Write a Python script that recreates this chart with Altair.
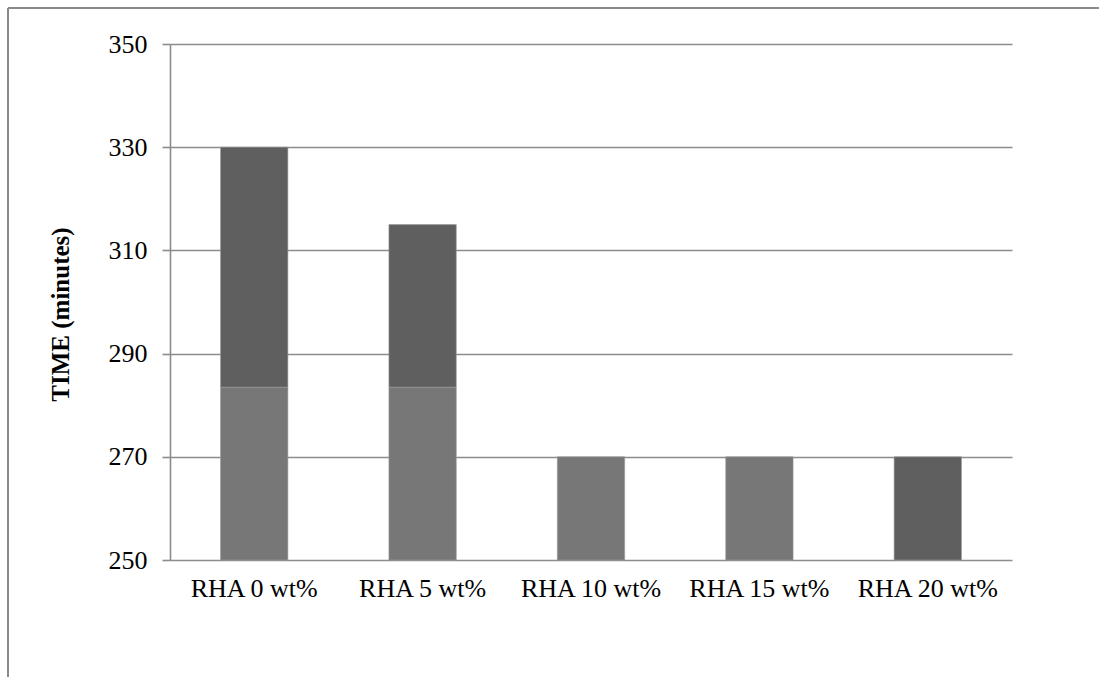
import altair as alt
import pandas as pd

categories = ["RHA 0 wt%", "RHA 5 wt%", "RHA 10 wt%", "RHA 15 wt%", "RHA 20 wt%"]
# lower (lighter) segment: bottom/top
light_low = [250, 250, 250, 250]
light_high = [283.5, 283.5, 270, 270]
light_cats = categories[:4]
# upper (darker) segment: bottom/top
dark_cats = ["RHA 0 wt%", "RHA 5 wt%", "RHA 20 wt%"]
dark_low = [283.5, 283.5, 250]
dark_high = [330, 315, 270]
y_ticks = [250, 270, 290, 310, 330, 350]

rows = []
for c, lo, hi in zip(light_cats, light_low, light_high):
    rows.append({"cat": c, "low": lo, "high": hi, "shade": "light"})
for c, lo, hi in zip(dark_cats, dark_low, dark_high):
    rows.append({"cat": c, "low": lo, "high": hi, "shade": "dark"})
df = pd.DataFrame(rows)

FONT = "Liberation Serif"
GRID = "#8c8c8c"

bars = alt.Chart(df).mark_bar(stroke="#9a9a9a", strokeWidth=0.6).encode(
    x=alt.X("cat:N", sort=categories,
            scale=alt.Scale(paddingInner=0.6, paddingOuter=0.3),
            axis=alt.Axis(title=None, labelAngle=0, domain=False, ticks=False,
                          labelFont=FONT, labelFontSize=26, labelColor="black",
                          labelPadding=15)),
    y=alt.Y("low:Q", scale=alt.Scale(domain=[250, 350], nice=False, zero=False),
            axis=alt.Axis(title="TIME (minutes)", values=y_ticks, grid=True,
                          gridColor=GRID, gridWidth=1.6, gridOpacity=1,
                          domainColor=GRID, domainWidth=1.6,
                          tickColor=GRID, tickWidth=1.6, tickSize=8,
                          labelFont=FONT, labelFontSize=26, labelColor="black",
                          labelPadding=15,
                          titleFont=FONT, titleFontSize=25, titleFontWeight="bold",
                          titleColor="black", titlePadding=35, titleY=270)),
    y2="high:Q",
    color=alt.Color("shade:N", scale=alt.Scale(domain=["light", "dark"],
                                               range=["#777777", "#5f5f5f"]),
                    legend=None),
)

frame_top = alt.Chart(df).mark_rule(color="#8a8a8a", strokeWidth=1.6).encode(
    x=alt.value(-162), x2=alt.value(929), y=alt.value(-36)
)
frame_left = alt.Chart(df).mark_rule(color="#8a8a8a", strokeWidth=1.6).encode(
    x=alt.value(-162), y=alt.value(-36), y2=alt.value(633)
)

chart = alt.layer(bars, frame_top, frame_left).properties(
    width=842, height=516,
    autosize=alt.AutoSizeParams(type="none"),
    padding={"left": 170, "top": 44, "right": 87, "bottom": 117},
    background="white",
).configure_view(stroke=None)

chart.save("out.html", embed_options={"renderer": "svg", "actions": False})
